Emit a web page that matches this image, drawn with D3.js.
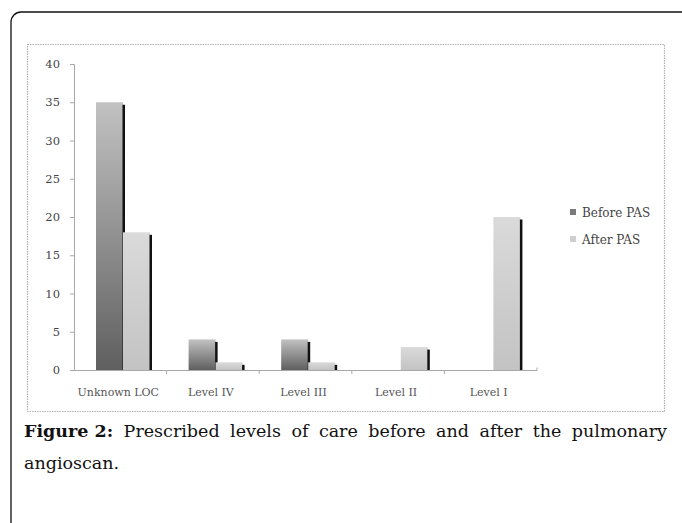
<!DOCTYPE html>
<html>
<head>
<meta charset="utf-8">
<script src="https://cdn.jsdelivr.net/npm/d3@7/dist/d3.min.js"></script>
<style>
html,body{margin:0;padding:0;background:#fff;}
svg{display:block;}
</style>
</head>
<body>
<svg id="chart" width="682" height="523"></svg>
<script>
const categories = ["Unknown LOC", "Level IV", "Level III", "Level II", "Level I"];
const seriesNames = ["Before PAS", "After PAS"];
const beforePAS = [35, 4, 4, 0, 0];
const afterPAS = [18, 1, 1, 3, 20];
const yTicks = [0, 5, 10, 15, 20, 25, 30, 35, 40];
const captionBold = "Figure 2:";
const captionLine1 = "Prescribed levels of care before and after the pulmonary";
const captionLine2 = "angioscan.";

const seriesValues = [beforePAS, afterPAS];
const svg = d3.select("#chart");
const W = 682, H = 523;

const defs = svg.append("defs");
const g1 = defs.append("linearGradient").attr("id", "gBefore").attr("x1", 0).attr("y1", 0).attr("x2", 0).attr("y2", 1);
g1.append("stop").attr("offset", "0%").attr("stop-color", "#c2c2c2");
g1.append("stop").attr("offset", "100%").attr("stop-color", "#5f5f5f");
const g2 = defs.append("linearGradient").attr("id", "gAfter").attr("x1", 0).attr("y1", 0).attr("x2", 0).attr("y2", 1);
g2.append("stop").attr("offset", "0%").attr("stop-color", "#dadada");
g2.append("stop").attr("offset", "100%").attr("stop-color", "#c3c3c3");
const fills = ["url(#gBefore)", "url(#gAfter)"];
const legendFills = ["#7a7a7a", "#cfcfcf"];

svg.append("rect").attr("width", W).attr("height", H).attr("fill", "#fff");

// outer rounded frame
svg.append("rect").attr("x", 11).attr("y", 12).attr("width", 720).attr("height", 600)
  .attr("rx", 10).attr("fill", "none").attr("stroke", "#111").attr("stroke-width", 1.3);

// inner chart frame
svg.append("rect").attr("x", 27.5).attr("y", 44.5).attr("width", 637).attr("height", 367)
  .attr("fill", "none").attr("stroke", "#b0b0b0").attr("stroke-width", 1.2).attr("stroke-dasharray", "1.5,1");

const x0 = d3.scaleBand().domain(categories).range([74, 537]).paddingInner(0).paddingOuter(0);
const x1 = d3.scaleBand().domain(seriesNames).range([22, 76]).padding(0);
const y = d3.scaleLinear().domain([0, 40]).range([370, 64]);

// y axis
const yAxis = svg.append("g").attr("transform", "translate(74,0)")
  .call(d3.axisLeft(y).tickValues(yTicks).tickSize(4).tickPadding(10).tickFormat(d3.format("d")));
yAxis.select(".domain").attr("stroke", "#a8a8a8");
yAxis.selectAll(".tick line").attr("stroke", "#a8a8a8");
yAxis.selectAll(".tick text").attr("font-family", "DejaVu Serif").attr("font-size", 11.5).attr("fill", "#444");

// bars
const groups = svg.append("g").selectAll("g").data(categories).join("g")
  .attr("transform", d => `translate(${x0(d)},0)`);
groups.each(function(cat, ci) {
  const gg = d3.select(this);
  seriesNames.forEach((s, si) => {
    const v = seriesValues[si][ci];
    if (v <= 0) return;
    const bx = x1(s), bw = x1.bandwidth();
    gg.append("rect").attr("x", bx).attr("y", y(v)).attr("width", bw).attr("height", y(0) - y(v))
      .attr("fill", fills[si]);
    const sy = y(v) + 2.5;
    gg.append("rect").attr("x", bx + bw - 0.5).attr("y", sy).attr("width", 2.5).attr("height", Math.max(0, y(0) - sy))
      .attr("fill", "#111");
  });
});

// x axis
const xAxisG = svg.append("g").attr("transform", "translate(0,370)");
xAxisG.append("line").attr("x1", 70).attr("x2", 537).attr("y1", 0.5).attr("y2", 0.5).attr("stroke", "#a8a8a8");
xAxisG.append("line").attr("x1", 537).attr("x2", 537).attr("y1", 0.5).attr("y2", -2.5).attr("stroke", "#a8a8a8");
categories.slice(1).forEach(c => {
  xAxisG.append("line").attr("x1", x0(c)).attr("x2", x0(c)).attr("y1", 0.5).attr("y2", 4).attr("stroke", "#a8a8a8");
});
xAxisG.selectAll("text.cat").data(categories).join("text").attr("class", "cat")
  .attr("x", d => x0(d) + x0.bandwidth() / 2 - 2).attr("y", 26)
  .attr("text-anchor", "middle").attr("font-family", "DejaVu Serif").attr("font-size", 11).attr("fill", "#555")
  .text(d => d);

// legend
const leg = svg.append("g");
seriesNames.forEach((s, i) => {
  const ly = 213 + i * 27;
  leg.append("rect").attr("x", 570).attr("y", ly - 4).attr("width", 6).attr("height", 6).attr("fill", legendFills[i]);
  leg.append("text").attr("x", 582).attr("y", ly + 4).attr("font-family", "DejaVu Serif").attr("font-size", 12)
    .attr("fill", "#444").text(s);
});

// caption (justified first line)
const capFont = "DejaVu Serif", capSize = 17.5;
const left = 24, right = 667, base1 = 437, base2 = 469;
const words = [{t: captionBold, b: true}].concat(captionLine1.split(" ").map(t => ({t, b: false})));
const tmp = svg.append("g");
words.forEach(w => {
  const t = tmp.append("text").attr("font-family", capFont).attr("font-size", capSize)
    .attr("font-weight", w.b ? "bold" : "normal").text(w.t);
  w.w = t.node().getComputedTextLength();
});
tmp.remove();
const totalW = d3.sum(words, w => w.w);
const gap = (right - left - totalW) / (words.length - 1);
let cx = left;
const cap = svg.append("g").attr("font-family", capFont).attr("font-size", capSize).attr("fill", "#111");
words.forEach(w => {
  cap.append("text").attr("x", cx).attr("y", base1).attr("font-weight", w.b ? "bold" : "normal").text(w.t);
  cx += w.w + gap;
});
cap.append("text").attr("x", left).attr("y", base2).text(captionLine2);
</script>
</body>
</html>
